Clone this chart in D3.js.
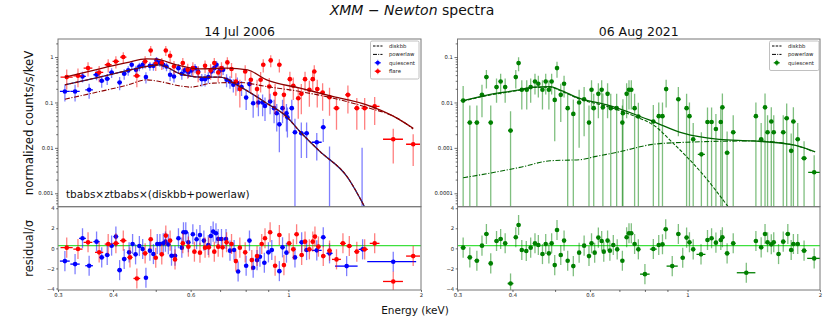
<!DOCTYPE html>
<html>
<head>
<meta charset="utf-8">
<title>XMM-Newton spectra</title>
<script src="https://d3js.org/d3.v7.min.js"></script>
<style>
  body { margin: 0; background: #fff; font-family: "DejaVu Sans", sans-serif; }
  svg { display: block; }
</style>
</head>
<body>
<div id="chart"></div>
<script>
// ---------------- data ----------------
const energyTicks = [0.3, 0.4, 0.6, 1, 2];
const energyMinor = [0.5, 0.7, 0.8, 0.9];
const residualTicks = [-4, -2, 0, 2, 4];
const residualLevel = 0.27;

// spectra rows: [energy keV, half bin width, counts/s/keV, error]
const quiescentSpec = [
  [0.311,0.008,0.175,0.07],[0.328,0.008,0.175,0.07],[0.341,0.006,0.374,0.1],[0.353,0.007,0.19,0.07],
  [0.367,0.006,0.408,0.1],[0.377,0.005,0.30,0.09],[0.388,0.005,0.333,0.09],[0.397,0.005,0.458,0.11],
  [0.414,0.005,0.276,0.09],[0.424,0.005,0.428,0.11],[0.433,0.004,0.508,0.12],[0.441,0.004,0.677,0.14],
  [0.451,0.004,0.525,0.12],[0.459,0.004,0.62,0.13],[0.467,0.004,0.677,0.14],[0.475,0.004,0.362,0.1],
  [0.485,0.004,0.64,0.14],[0.494,0.004,0.64,0.14],[0.502,0.004,0.845,0.16],[0.511,0.004,0.76,0.15],
  [0.520,0.004,0.677,0.14],[0.529,0.004,0.62,0.13],[0.539,0.004,0.408,0.11],[0.550,0.005,0.374,0.1],
  [0.563,0.005,0.57,0.13],[0.573,0.005,0.428,0.11],[0.582,0.005,0.508,0.12],[0.593,0.005,0.458,0.11],
  [0.603,0.005,0.508,0.12],[0.614,0.005,0.57,0.13],[0.624,0.005,0.48,0.12],[0.636,0.005,0.326,0.1],
  [0.647,0.005,0.326,0.1],[0.658,0.005,0.362,0.1],[0.669,0.005,0.48,0.12],[0.679,0.005,0.57,0.13],
  [0.687,0.005,0.677,0.14],[0.699,0.006,0.508,0.12],[0.711,0.006,0.525,0.12],[0.724,0.006,0.316,0.1],
  [0.737,0.006,0.29,0.09],[0.750,0.006,0.245,0.08],[0.766,0.007,0.267,0.09],[0.783,0.007,0.218,0.08],
  [0.802,0.008,0.128,0.06],[0.816,0.008,0.254,0.08],[0.832,0.008,0.096,0.05],[0.855,0.009,0.1,0.05],
  [0.874,0.009,0.1,0.05],[0.885,0.009,0.084,0.045],[0.909,0.01,0.105,0.05],[0.928,0.01,0.075,0.04],
  [0.941,0.01,0.058,0.035],[0.954,0.01,0.033,0.025],[0.970,0.01,0.075,0.04],[0.990,0.01,0.058,0.035],
  [0.995,0.01,0.047,0.03],[1.018,0.012,0.075,0.04],[1.035,0.012,0.022,0.022],[1.07,0.012,0.021,0.015],
  [1.10,0.014,0.021,0.015],[1.16,0.03,0.0133,0.008],[1.20,0.015,0.0285,0.015],[1.24,0.02,0.0002,0.0105],
  [1.47,0.03,0.0002,0.0098]
];
const flareSpec = [
  [0.314,0.01,0.362,0.17],[0.333,0.008,0.387,0.17],[0.351,0.008,0.572,0.2],[0.372,0.008,0.458,0.18],
  [0.390,0.007,0.677,0.22],[0.406,0.007,0.80,0.24],[0.422,0.007,1.0,0.28],[0.453,0.008,0.387,0.17],
  [0.473,0.006,0.80,0.24],[0.487,0.005,1.40,0.35],[0.500,0.005,0.713,0.22],[0.516,0.005,0.737,0.22],
  [0.527,0.005,1.40,0.35],[0.539,0.005,1.07,0.3],[0.550,0.005,0.62,0.2],[0.576,0.006,0.737,0.22],
  [0.591,0.006,0.525,0.19],[0.607,0.006,0.57,0.2],[0.624,0.006,0.458,0.18],[0.647,0.006,0.64,0.2],
  [0.666,0.006,0.508,0.19],[0.679,0.006,0.737,0.22],[0.693,0.006,0.458,0.18],[0.705,0.006,0.57,0.2],
  [0.727,0.007,0.763,0.23],[0.743,0.007,0.544,0.2],[0.760,0.007,0.29,0.15],[0.776,0.007,0.197,0.12],
  [0.798,0.008,0.48,0.18],[0.822,0.008,0.316,0.15],[0.849,0.009,0.197,0.12],[0.865,0.009,0.316,0.15],
  [0.877,0.009,0.677,0.22],[0.905,0.01,0.225,0.12],[0.912,0.01,0.845,0.25],[0.933,0.01,0.155,0.1],
  [0.954,0.01,0.677,0.22],[0.977,0.01,0.147,0.1],[1.008,0.012,0.326,0.15],[1.026,0.012,0.233,0.12],
  [1.053,0.012,0.124,0.08],[1.07,0.012,0.155,0.1],[1.091,0.012,0.326,0.15],[1.116,0.012,0.19,0.11],
  [1.136,0.012,0.326,0.15],[1.145,0.012,0.48,0.18],[1.163,0.013,0.197,0.12],[1.196,0.014,0.166,0.1],
  [1.24,0.015,0.131,0.08],[1.286,0.02,0.075,0.05],[1.365,0.02,0.147,0.09],[1.43,0.02,0.075,0.05],
  [1.49,0.025,0.075,0.05],[1.57,0.04,0.082,0.05],[1.73,0.09,0.0155,0.011],[1.92,0.07,0.012,0.008]
];
const aug2021Spec = [
  [0.309,0.004,0.011,0.012],[0.32,0.004,0.0036,0.005],[0.332,0.004,0.0036,0.005],[0.341,0.004,0.0147,0.01],
  [0.349,0.004,0.0362,0.016],[0.357,0.004,0.0036,0.005],[0.368,0.004,0.0218,0.012],[0.376,0.004,0.029,0.014],
  [0.385,0.004,0.0218,0.012],[0.396,0.005,0.0024,0.004],[0.407,0.004,0.0362,0.016],[0.413,0.004,0.0737,0.025],
  [0.42,0.004,0.019,0.012],[0.431,0.004,0.019,0.012],[0.44,0.004,0.0218,0.012],[0.45,0.004,0.029,0.014],
  [0.458,0.004,0.0258,0.013],[0.468,0.004,0.019,0.012],[0.476,0.004,0.029,0.014],[0.484,0.004,0.019,0.012],
  [0.491,0.004,0.029,0.014],[0.499,0.004,0.0114,0.01],[0.505,0.004,0.0572,0.022],[0.515,0.004,0.0147,0.011],
  [0.524,0.004,0.0258,0.013],[0.534,0.004,0.0075,0.008],[0.55,0.005,0.0056,0.006],[0.567,0.005,0.01,0.009],
  [0.582,0.005,0.0118,0.01],[0.597,0.005,0.0036,0.005],[0.605,0.005,0.019,0.012],[0.612,0.005,0.0075,0.008],
  [0.627,0.005,0.0155,0.011],[0.638,0.005,0.019,0.012],[0.642,0.005,0.0078,0.008],[0.658,0.005,0.0155,0.011],
  [0.669,0.005,0.0075,0.008],[0.69,0.006,0.0075,0.008],[0.711,0.006,0.0036,0.005],[0.713,0.006,0.0058,0.006],
  [0.727,0.006,0.0155,0.011],[0.736,0.006,0.019,0.012],[0.745,0.006,0.019,0.012],[0.758,0.007,0.0075,0.008],
  [0.773,0.007,0.0049,0.005],[0.836,0.008,0.0038,0.005],[0.86,0.008,0.005,0.005],[0.877,0.008,0.005,0.005],
  [0.894,0.009,0.0197,0.012],[0.953,0.01,0.0118,0.01],[0.995,0.01,0.0075,0.008],[1.01,0.01,0.005,0.005],
  [1.03,0.01,0.00155,0.002],[1.075,0.02,0.00072,0.0015],[1.11,0.01,0.0037,0.004],[1.134,0.01,0.0037,0.004],
  [1.16,0.012,0.0026,0.003],[1.19,0.012,0.0037,0.004],[1.2,0.012,0.0078,0.008],[1.23,0.015,0.00078,0.0015],
  [1.27,0.015,0.0022,0.003],[1.43,0.015,0.005,0.005],[1.47,0.015,0.00155,0.002],[1.5,0.015,0.0078,0.008],
  [1.52,0.015,0.0022,0.003],[1.55,0.015,0.0038,0.004],[1.57,0.015,0.0022,0.003],[1.65,0.02,0.0022,0.003],
  [1.68,0.02,0.0045,0.005],[1.72,0.02,0.00086,0.0012],[1.74,0.02,0.0038,0.004],[1.78,0.02,0.00155,0.002],
  [1.84,0.025,0.00059,0.0008],[1.94,0.06,0.00029,0.0004]
];

// residual rows: [energy keV, half bin width, residual/sigma]  (error = 1 sigma)
const quiescentRes = [
  [0.311,0.008,-1.27],[0.328,0.008,-1.57],[0.341,0.006,1.0],[0.353,0.007,-1.73],[0.367,0.006,0.67],
  [0.377,0.005,-0.9],[0.388,0.005,-0.67],[0.397,0.005,0.27],[0.406,0.005,1.17],[0.414,0.005,-2.17],
  [0.424,0.005,-1.07],[0.435,0.004,-0.4],[0.443,0.004,0.43],[0.450,0.004,-0.6],[0.459,0.004,0.23],
  [0.467,0.004,-0.07],[0.475,0.004,-2.93],[0.485,0.004,-0.23],[0.494,0.004,-0.57],[0.504,0.004,0.43],
  [0.511,0.004,0.43],[0.520,0.004,0.5],[0.526,0.004,0.67],[0.534,0.004,0.4],[0.543,0.004,-0.73],
  [0.553,0.005,-0.73],[0.563,0.005,1.0],[0.573,0.005,0.07],[0.578,0.005,1.6],[0.585,0.005,1.6],
  [0.593,0.005,0.6],[0.607,0.005,1.4],[0.619,0.005,0.9],[0.630,0.005,1.33],[0.643,0.005,0.77],
  [0.658,0.005,0.33],[0.667,0.005,1.23],[0.675,0.005,1.67],[0.685,0.005,1.5],[0.693,0.005,0.93],
  [0.705,0.006,0.93],[0.722,0.006,0.93],[0.737,0.006,-0.23],[0.753,0.006,-0.17],[0.769,0.007,-2.3],
  [0.802,0.008,-1.73],[0.816,0.008,0.77],[0.832,0.008,-1.93],[0.849,0.009,-1.17],[0.862,0.009,-0.83],
  [0.882,0.009,-1.43],[0.901,0.01,-0.4],[0.917,0.01,-0.17],[0.954,0.01,-2.27],[0.970,0.01,0.1],
  [0.990,0.01,-0.43],[1.035,0.012,-0.9],[1.072,0.012,0.6],[1.10,0.014,-0.17],[1.16,0.03,-0.2],
  [1.20,0.015,1.1],[1.24,0.02,-0.5],[1.356,0.08,-1.77],[1.474,0.03,-0.1],[1.73,0.22,-1.33]
];
const flareRes = [
  [0.314,0.01,0.07],[0.333,0.008,-0.07],[0.351,0.008,0.6],[0.372,0.008,-0.4],[0.390,0.007,0.43],
  [0.406,0.007,0.5],[0.422,0.007,0.77],[0.437,0.006,-0.9],[0.453,0.008,-3.0],[0.473,0.006,-0.5],
  [0.487,0.005,0.9],[0.500,0.005,-0.93],[0.516,0.005,-0.6],[0.527,0.005,1.27],[0.539,0.005,0.77],
  [0.553,0.005,-1.1],[0.576,0.006,0.5],[0.593,0.006,0.17],[0.612,0.006,-0.33],[0.630,0.006,-0.43],
  [0.647,0.006,0.07],[0.660,0.006,0.1],[0.679,0.006,-0.33],[0.693,0.006,0.17],[0.709,0.006,0.1],
  [0.724,0.007,0.6],[0.743,0.007,0.43],[0.760,0.007,-1.27],[0.776,0.007,0.07],[0.798,0.008,-0.4],
  [0.826,0.008,-1.17],[0.849,0.009,-0.77],[0.870,0.009,0.43],[0.885,0.009,1.0],[0.909,0.01,1.6],
  [0.933,0.01,-1.73],[0.954,0.01,1.33],[0.977,0.01,-1.67],[1.004,0.012,0.5],[1.026,0.012,-0.1],
  [1.044,0.012,1.4],[1.072,0.012,-0.67],[1.091,0.012,0.67],[1.116,0.012,-0.1],[1.136,0.012,0.67],
  [1.149,0.012,1.17],[1.17,0.013,0.17],[1.20,0.014,-0.77],[1.24,0.015,-0.23],[1.286,0.03,-1.1],
  [1.33,0.02,0.5],[1.375,0.02,0.23],[1.43,0.02,-0.33],[1.49,0.025,-0.1],[1.57,0.04,0.5],
  [1.73,0.09,-3.3],[1.92,0.07,-0.77]
];
const aug2021Res = [
  [0.309,0.004,0.07],[0.32,0.004,-0.9],[0.332,0.004,-1.23],[0.341,0.004,0.27],[0.349,0.004,1.43],
  [0.357,0.004,-1.5],[0.368,0.004,0.73],[0.376,0.004,0.93],[0.385,0.004,0.5],[0.396,0.006,-3.5],
  [0.407,0.004,1.1],[0.413,0.004,2.33],[0.42,0.004,-0.17],[0.43,0.004,-0.27],[0.44,0.004,0.07],
  [0.45,0.004,0.5],[0.458,0.004,0.33],[0.468,0.004,-0.57],[0.476,0.004,0.43],[0.484,0.004,-0.5],
  [0.491,0.004,0.5],[0.499,0.004,-1.67],[0.505,0.004,1.83],[0.515,0.004,-0.67],[0.524,0.004,0.77],
  [0.534,0.004,-1.23],[0.55,0.005,-1.77],[0.567,0.005,-0.43],[0.582,0.005,0.27],[0.597,0.005,-0.77],
  [0.605,0.005,0.5],[0.615,0.005,-0.43],[0.627,0.005,1.07],[0.638,0.005,0.73],[0.645,0.005,-0.33],
  [0.658,0.005,0.77],[0.666,0.005,-0.23],[0.678,0.005,0.33],[0.692,0.005,-0.1],[0.711,0.006,-1.23],
  [0.727,0.006,1.1],[0.736,0.006,1.5],[0.745,0.006,1.5],[0.758,0.007,0.43],[0.773,0.007,-0.1],
  [0.80,0.02,-2.57],[0.836,0.015,-0.07],[0.86,0.008,0.33],[0.877,0.008,0.4],[0.892,0.009,1.9],
  [0.923,0.027,-1.77],[0.953,0.01,1.43],[0.975,0.01,-0.93],[0.995,0.01,1.07],[1.01,0.01,0.6],
  [1.03,0.01,-0.1],[1.073,0.025,-0.6],[1.11,0.01,0.83],[1.134,0.01,1.0],[1.16,0.012,0.57],
  [1.19,0.012,0.83],[1.2,0.012,1.1],[1.23,0.015,-0.5],[1.27,0.015,0.5],[1.36,0.066,-2.43],
  [1.43,0.015,0.73],[1.47,0.015,0.1],[1.5,0.015,1.43],[1.52,0.015,0.6],[1.55,0.015,0.4],
  [1.57,0.015,0.6],[1.61,0.015,-0.57],[1.65,0.02,0.67],[1.69,0.02,1.43],[1.72,0.02,-0.17],
  [1.74,0.02,0.43],[1.78,0.02,0.43],[1.84,0.025,-0.23],[1.94,0.07,-1.0]
];

// model curves: [energy keV, counts/s/keV]
const flareTotal = [[0.311,0.362],[0.373,0.552],[0.43,0.75],[0.476,0.917],[0.502,0.90],[0.557,0.676],
  [0.63,0.55],[0.724,0.57],[0.808,0.52],[0.893,0.315],[1.063,0.207],[1.265,0.135],[1.50,0.09],[1.73,0.05],[1.92,0.027]];
const flarePowerlaw = [[0.311,0.118],[0.373,0.174],[0.43,0.24],[0.476,0.315],[0.51,0.29],[0.567,0.232],
  [0.598,0.218],[0.675,0.267],[0.776,0.275],[0.893,0.224],[1.063,0.174],[1.265,0.124],[1.50,0.079],[1.79,0.042],[1.92,0.026]];
const diskbbLeft = [[0.311,0.245],[0.373,0.362],[0.43,0.5],[0.476,0.62],[0.51,0.676],[0.567,0.43],
  [0.63,0.362],[0.699,0.362],[0.776,0.224],[0.893,0.096],[0.99,0.049],[1.063,0.0227],[1.18,0.0083],
  [1.36,0.0023],[1.49,0.0005]];
const augTotal = [[0.309,0.011],[0.35,0.0145],[0.415,0.019],[0.446,0.0218],[0.487,0.0224],[0.512,0.019],
  [0.567,0.0124],[0.656,0.0088],[0.765,0.0053],[0.836,0.0038],[0.977,0.0021],[1.18,0.00154],[1.41,0.00142],
  [1.74,0.00116],[1.95,0.00082]];
const augDiskbb = [[0.309,0.0107],[0.35,0.0142],[0.415,0.0186],[0.446,0.0213],[0.487,0.0218],[0.512,0.0185],
  [0.567,0.012],[0.656,0.0082],[0.765,0.0048],[0.836,0.0032],[0.928,0.00126],[1.08,0.00027],[1.238,0.00005]];
const augPowerlaw = [[0.309,0.00022],[0.35,0.00027],[0.42,0.00038],[0.487,0.00052],[0.57,0.00055],[0.62,0.00065],
  [0.70,0.00082],[0.836,0.0012],[0.995,0.00133],[1.41,0.00142],[1.74,0.00116],[1.93,0.00082]];

// ---------------- layout ----------------
const W = 830, H = 332;
const TOP = [39, 206.7], RES = [206.7, 290];
const FONT = '"DejaVu Sans", sans-serif';

const svg = d3.select('#chart').append('svg').attr('width', W).attr('height', H)
  .style('font-family', FONT);
const defs = svg.append('defs');

function logMinors(domain) {
  let out = [];
  for (let k = -6; k <= 1; k++) {
    for (let m = 2; m <= 9; m++) {
      let v = m * Math.pow(10, k);
      if (v >= domain[0] && v <= domain[1]) out.push(v);
    }
  }
  return out;
}

function styleAxis(g, size) {
  g.attr('font-size', size).attr('font-family', FONT);
  g.select('.domain').remove();
  g.selectAll('.tick line').attr('stroke', '#333').attr('stroke-width', 0.7);
  g.selectAll('.tick text').attr('fill', '#222');
}

// rows: [x, dx, y, dy]; on a log axis a lower end <= 0 runs to the bottom
function drawBars(g, rows, x, y, color, bottom, isLog) {
  g.selectAll(null).data(rows).enter().append('line')
    .attr('x1', d => x(d[0])).attr('x2', d => x(d[0]))
    .attr('y1', d => y(d[2] + d[3]))
    .attr('y2', d => (!isLog || d[2] - d[3] > 0) ? y(d[2] - d[3]) : bottom + 5)
    .attr('stroke', color).attr('stroke-opacity', 0.5).attr('stroke-width', 1.3);
  g.selectAll(null).data(rows).enter().append('line')
    .attr('x1', d => x(d[0] - d[1])).attr('x2', d => x(d[0] + d[1]))
    .attr('y1', d => y(d[2])).attr('y2', d => y(d[2]))
    .attr('stroke', color).attr('stroke-width', 1.3);
  g.selectAll(null).data(rows).enter().append('circle')
    .attr('cx', d => x(d[0])).attr('cy', d => y(d[2])).attr('r', 2.3)
    .attr('fill', color);
}

function drawPanel(p, idx) {
  const x = d3.scaleLog().domain([0.3, 2]).range([p.x0, p.x1]);
  const yTop = d3.scaleLog().domain(p.fluxDomain).range([TOP[1], TOP[0]]);
  const yRes = d3.scaleLinear().domain([-4.15, 4.15]).range([RES[1], RES[0]]);

  defs.append('clipPath').attr('id', 'ct' + idx).append('rect')
    .attr('x', p.x0).attr('y', TOP[0]).attr('width', p.x1 - p.x0).attr('height', TOP[1] - TOP[0]);
  defs.append('clipPath').attr('id', 'cr' + idx).append('rect')
    .attr('x', p.x0).attr('y', RES[0]).attr('width', p.x1 - p.x0).attr('height', RES[1] - RES[0]);

  // ---- top panel ----
  const gt = svg.append('g').attr('clip-path', 'url(#ct' + idx + ')');
  p.spectra.forEach(s => drawBars(gt, s.rows, x, yTop, s.color, TOP[1], true));

  const line = d3.line().x(d => x(d[0])).y(d => yTop(d[1])).curve(d3.curveMonotoneX);
  p.models.forEach(m => {
    gt.append('path').datum(m.rows).attr('d', line)
      .attr('fill', 'none').attr('stroke', m.color).attr('stroke-width', m.width || 1.2)
      .attr('stroke-dasharray', m.dash || null);
  });

  // ---- residual panel ----
  const gr = svg.append('g').attr('clip-path', 'url(#cr' + idx + ')');
  gr.append('line').attr('x1', p.x0).attr('x2', p.x1)
    .attr('y1', yRes(residualLevel)).attr('y2', yRes(residualLevel))
    .attr('stroke', '#3ee03e').attr('stroke-width', 1.2);
  p.residuals.forEach(s => drawBars(gr, s.rows.map(d => [d[0], d[1], d[2], 1]), x, yRes, s.color, RES[1], false));

  // ---- frames ----
  [[TOP[0], TOP[1]], [RES[0], RES[1]]].forEach(r => {
    svg.append('rect').attr('x', p.x0).attr('y', r[0]).attr('width', p.x1 - p.x0).attr('height', r[1] - r[0])
      .attr('fill', 'none').attr('stroke', '#777').attr('stroke-width', 1);
  });

  // ---- axes ----
  const ay = svg.append('g').attr('transform', 'translate(' + p.x0 + ',0)')
    .call(d3.axisLeft(yTop).tickValues(p.fluxTicks).tickFormat(v => String(v)).tickSize(3).tickPadding(1.5));
  styleAxis(ay, 5.3);
  const ayMinor = svg.append('g').attr('transform', 'translate(' + p.x0 + ',0)')
    .call(d3.axisLeft(yTop).tickValues(logMinors(p.fluxDomain)).tickFormat('').tickSize(1.8));
  styleAxis(ayMinor, 5.3);

  const ar = svg.append('g').attr('transform', 'translate(' + p.x0 + ',0)')
    .call(d3.axisLeft(yRes).tickValues(residualTicks)
      .tickFormat(v => v < 0 ? '\u2212' + Math.abs(v) : String(v)).tickSize(1.8).tickPadding(1.5));
  styleAxis(ar, 5.3);

  const ax = svg.append('g').attr('transform', 'translate(0,' + RES[1] + ')')
    .call(d3.axisBottom(x).tickValues(energyTicks).tickFormat(v => String(v)).tickSize(2).tickPadding(1.5));
  styleAxis(ax, 5.3);
  const axMinor = svg.append('g').attr('transform', 'translate(0,' + RES[1] + ')')
    .call(d3.axisBottom(x).tickValues(energyMinor).tickFormat('').tickSize(2));
  styleAxis(axMinor, 5.3);

  // ---- subtitle ----
  svg.append('text').attr('x', (p.x0 + p.x1) / 2).attr('y', 35.5)
    .attr('text-anchor', 'middle').attr('font-size', 12.5).attr('fill', '#111').text(p.subtitle);

  // ---- legend ----
  const lg = svg.append('g');
  lg.append('rect').attr('x', p.legend.x).attr('y', 41).attr('width', p.legend.w)
    .attr('height', 8.5 * p.legend.items.length + 4).attr('rx', 1.5)
    .attr('fill', '#fff').attr('fill-opacity', 0.8).attr('stroke', '#b0b0b0').attr('stroke-width', 0.8);
  p.legend.items.forEach((it, i) => {
    const cy = 46 + i * 8.4;
    const hx = p.legend.x + 2.5;
    if (it.dash) {
      lg.append('line').attr('x1', hx).attr('x2', hx + 9.5).attr('y1', cy).attr('y2', cy)
        .attr('stroke', '#000').attr('stroke-width', 1).attr('stroke-dasharray', it.dash);
    } else {
      const mx = hx + 4.75;
      lg.append('line').attr('x1', mx).attr('x2', mx).attr('y1', cy - 3).attr('y2', cy + 3)
        .attr('stroke', it.color).attr('stroke-opacity', 0.5).attr('stroke-width', 1.2);
      lg.append('line').attr('x1', mx - 3).attr('x2', mx + 3).attr('y1', cy).attr('y2', cy)
        .attr('stroke', it.color).attr('stroke-width', 1.2);
      lg.append('circle').attr('cx', mx).attr('cy', cy).attr('r', 2).attr('fill', it.color);
    }
    lg.append('text').attr('x', hx + 16).attr('y', cy + 1.9).attr('font-size', 5.3)
      .attr('fill', '#222').text(it.label);
  });
}

const dashed = '3.5,1.6', dashDot = '5,1.6,1.2,1.6';

drawPanel({
  x0: 58, x1: 421, subtitle: '14 Jul 2006',
  fluxDomain: [5.06e-4, 2.5], fluxTicks: [0.001, 0.01, 0.1, 1],
  spectra: [{rows: quiescentSpec, color: '#0000ff'}, {rows: flareSpec, color: '#ff0000'}],
  residuals: [{rows: quiescentRes, color: '#0000ff'}, {rows: flareRes, color: '#ff0000'}],
  models: [
    {rows: diskbbLeft, color: '#1c1c6e', width: 1.3},
    {rows: diskbbLeft, color: '#8b0000', dash: dashed, width: 1.1},
    {rows: flarePowerlaw, color: '#8b0000', dash: dashDot, width: 1.1},
    {rows: flareTotal, color: '#8b0000', width: 1.3}
  ],
  legend: {x: 370.5, w: 48.5, items: [
    {label: 'diskbb', dash: '2.5,1.2'}, {label: 'powerlaw', dash: '4,1.2,1,1.2'},
    {label: 'quiescent', color: '#0000ff'}, {label: 'flare', color: '#ff0000'}]}
}, 0);

drawPanel({
  x0: 457.5, x1: 820, subtitle: '06 Aug 2021',
  fluxDomain: [5.06e-5, 0.25], fluxTicks: [0.0001, 0.001, 0.01, 0.1],
  spectra: [{rows: aug2021Spec, color: '#008000'}],
  residuals: [{rows: aug2021Res, color: '#008000'}],
  models: [
    {rows: augDiskbb, color: '#006400', dash: dashed, width: 1.1},
    {rows: augPowerlaw, color: '#006400', dash: dashDot, width: 1.1},
    {rows: augTotal, color: '#006400', width: 1.3}
  ],
  legend: {x: 769.5, w: 49.5, items: [
    {label: 'diskbb', dash: '2.5,1.2'}, {label: 'powerlaw', dash: '4,1.2,1,1.2'},
    {label: 'quiescent', color: '#008000'}]}
}, 1);

// ---------------- titles & labels ----------------
const title = svg.append('text').attr('x', 412).attr('y', 15).attr('text-anchor', 'middle')
  .attr('font-size', 14).attr('fill', '#111');
title.append('tspan').attr('font-style', 'italic').text('XMM');
title.append('tspan').text(' \u2212 ');
title.append('tspan').attr('font-style', 'italic').text('Newton');
title.append('tspan').text(' spectra');

svg.append('text').attr('transform', 'translate(33,' + (TOP[0] + TOP[1]) / 2 + ') rotate(-90)')
  .attr('text-anchor', 'middle').attr('font-size', 11.8).attr('fill', '#111').text('normalized counts/s/keV');
svg.append('text').attr('transform', 'translate(33,' + (RES[0] + RES[1]) / 2 + ') rotate(-90)')
  .attr('text-anchor', 'middle').attr('font-size', 11.5).attr('fill', '#111').text('residual/\u03c3');
svg.append('text').attr('x', 415).attr('y', 314).attr('text-anchor', 'middle')
  .attr('font-size', 10.5).attr('fill', '#111').text('Energy (keV)');
svg.append('text').attr('x', 66).attr('y', 198).attr('font-size', 10.5).attr('fill', '#111')
  .text('tbabs\u00d7ztbabs\u00d7(diskbb+powerlaw)');
</script>
</body>
</html>
